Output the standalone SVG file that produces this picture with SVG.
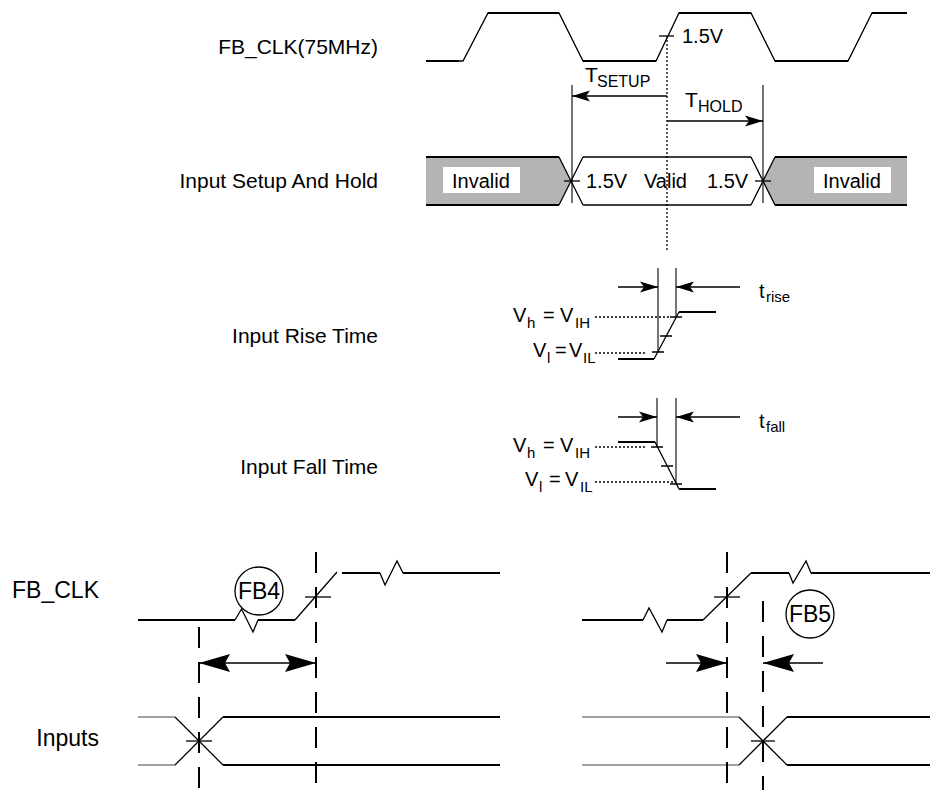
<svg xmlns="http://www.w3.org/2000/svg" width="931" height="790" viewBox="0 0 931 790">
<style>
text{font-family:"Liberation Sans",Arial,sans-serif;fill:#000}
.lbl{font-size:21px}
.big{font-size:23px}
.t20{font-size:20px}
.sub{font-size:16px}
.v{font-size:20px}
.vs{font-size:15px}
.w{fill:none;stroke:#000;stroke-width:1.3;stroke-linejoin:miter}
.h{fill:none;stroke:#000;stroke-width:2.2}
.b{fill:none;stroke:#000;stroke-width:2}
.thin{fill:none;stroke:#000;stroke-width:1.1}
.gthin{fill:none;stroke:#444;stroke-width:1.2}
.dot{fill:none;stroke:#000;stroke-width:1.3;stroke-dasharray:2 2}
.dash{fill:none;stroke:#000;stroke-width:2;stroke-dasharray:21 14}
.arr{fill:none;stroke:#000;stroke-width:1.3}
.gray{fill:#b4b4b4;stroke:none}
.box{fill:#fff;stroke:none}
</style>
<defs>
<marker id="as" markerUnits="userSpaceOnUse" viewBox="-20 -8 22 16" refX="0" refY="0" markerWidth="22" markerHeight="16" orient="auto"><path d="M0,0 L-18,-5.5 L-14,0 L-18,5.5 Z" fill="#000"/></marker>
<marker id="al" markerUnits="userSpaceOnUse" viewBox="-34 -12 36 24" refX="0" refY="0" markerWidth="36" markerHeight="24" orient="auto"><path d="M0,0 L-31,-9 L-26,0 L-31,9 Z" fill="#000"/></marker>
</defs>

<g id="labels">
<text class="lbl" x="378" y="54" text-anchor="end">FB_CLK(75MHz)</text>
<text class="lbl" x="378" y="188" text-anchor="end">Input Setup And Hold</text>
<text class="lbl" x="378" y="343" text-anchor="end">Input Rise Time</text>
<text class="lbl" x="378" y="474" text-anchor="end">Input Fall Time</text>
<text class="big" x="99" y="598" text-anchor="end">FB_CLK</text>
<text class="big" x="99" y="746" text-anchor="end">Inputs</text>
</g>

<g id="clock75">
<path class="w" d="M426,61 L463,61 L488,13 L559,13 L583,61 L656,61 L679,13 L751,13 L775,61 L848,61 L872,13 L907,13"/>
<path class="h" d="M426,61 H459 M488,13 H559 M583,61 H656 M679,13 H751 M775,61 H848 M872,13 H907"/>
<line class="w" x1="659" y1="36" x2="674" y2="36"/>
<text class="t20" x="682" y="43">1.5V</text>
</g>

<g id="setup-hold-bus">
<polygon class="gray" points="426,157 559,157 571,181 559,205 426,205"/>
<polygon class="gray" points="907,157 775,157 763,181 775,205 907,205"/>
<path class="h" d="M426,157 H559 M426,205 H559 M775,157 H907 M775,205 H907"/>
<path class="w" d="M559,157 L583,205 M559,205 L583,157 M583,157 H751 M583,205 H751 M751,157 L775,205 M751,205 L775,157"/>
<line class="w" x1="564" y1="181" x2="580" y2="181"/>
<line class="w" x1="755" y1="181" x2="771" y2="181"/>
<rect class="box" x="443" y="167" width="77" height="26"/>
<rect class="box" x="814" y="167" width="77" height="26"/>
<text class="t20" x="452" y="188">Invalid</text>
<text class="t20" x="823" y="188">Invalid</text>
<text class="t20" x="586" y="188">1.5V</text>
<text class="t20" x="644" y="188">Valid</text>
<text class="t20" x="707" y="188">1.5V</text>
</g>

<g id="rise-time">
<path class="w" d="M654,359 L679,312"/>
<path class="h" d="M618,359 H654 M679,312 H716"/>
<path class="w" d="M652,352 H664 M660,336 H672 M670,317 H682"/>
<line class="dot" x1="595" y1="317" x2="670" y2="317"/>
<line class="dot" x1="595" y1="353" x2="645" y2="353"/>
<text class="v" x="513" y="322">V</text><text class="vs" x="527" y="328">h</text><text class="v" x="543" y="322">=</text><text class="v" x="560" y="322">V</text><text class="vs" x="575" y="328">IH</text>
<text class="v" x="533" y="357">V</text><text class="vs" x="547" y="363">l</text><text class="v" x="555" y="357">=</text><text class="v" x="569" y="357">V</text><text class="vs" x="583" y="363">IL</text>
<text class="t20" x="759" y="298">t</text><text class="vs" x="766" y="302">rise</text>
</g>

<g id="fall-time">
<path class="w" d="M655,442 L679,489"/>
<path class="h" d="M618,442 H655 M679,489 H716"/>
<path class="w" d="M651,447 H663 M661,466 H673 M670,484 H682"/>
<line class="dot" x1="595" y1="447" x2="645" y2="447"/>
<line class="dot" x1="595" y1="482" x2="675" y2="482"/>
<text class="v" x="513" y="452">V</text><text class="vs" x="527" y="458">h</text><text class="v" x="543" y="452">=</text><text class="v" x="560" y="452">V</text><text class="vs" x="575" y="458">IH</text>
<text class="v" x="525" y="486">V</text><text class="vs" x="539" y="492">l</text><text class="v" x="549" y="486">=</text><text class="v" x="565" y="486">V</text><text class="vs" x="580" y="492">IL</text>
<text class="t20" x="759" y="428">t</text><text class="vs" x="766" y="432">fall</text>
</g>

<g id="fbclk-left">
<path class="b" d="M138,620 H235 M258,620 H295 M342,573 H380 M403,573 H500"/>
<path class="w" d="M235,620 L241.5,609 L253,632 L258,620 M295,620 L337,572 M380,573 L385,585 L397,561 L403,573"/>
<line class="w" x1="305" y1="597" x2="331" y2="597"/>
</g>

<g id="fb4">
<circle cx="259" cy="591" r="24" fill="none" stroke="#000" stroke-width="1.3"/>
<text class="big" x="259" y="599" text-anchor="middle">FB4</text>
</g>

<g id="inputs-left">
<path class="gthin" d="M138,717 H175 M138,765 H175"/>
<path class="w" d="M175,717 L223,765 M175,765 L223,717"/>
<path class="b" d="M223,765 H500 M223,717 H500"/>
<line class="w" x1="186" y1="741" x2="212" y2="741"/>
</g>

<g id="fbclk-right">
<path class="b" d="M582,620 H643 M667,620 H703 M751,573 H789 M811,573 H930"/>
<path class="w" d="M643,620 L649,608 L662,632 L667,620 M703,620 L751,573 M789,573 L793,583 L806,561 L811,573"/>
<line class="w" x1="714" y1="597" x2="740" y2="597"/>
</g>

<g id="fb5">
<circle cx="810" cy="614" r="24" fill="none" stroke="#000" stroke-width="1.3"/>
<text class="big" x="810" y="622" text-anchor="middle">FB5</text>
</g>

<g id="inputs-right">
<path class="gthin" d="M582,717 H739 M582,765 H739"/>
<path class="w" d="M739,717 L787,765 M739,765 L787,717"/>
<path class="b" d="M787,765 H930 M787,717 H930"/>
<line class="w" x1="751" y1="741" x2="775" y2="741"/>
</g>

<g id="connectors">
<line class="dot" x1="667" y1="36" x2="667" y2="252"/>
<line class="thin" x1="572" y1="85" x2="572" y2="203"/>
<line class="thin" x1="763" y1="85" x2="763" y2="203"/>
<line class="arr" x1="667" y1="96" x2="572" y2="96" marker-end="url(#as)"/>
<line class="arr" x1="667" y1="121" x2="763" y2="121" marker-end="url(#as)"/>
<text class="lbl" x="585" y="82">T</text><text class="sub" x="597" y="87">SETUP</text>
<text class="lbl" x="685" y="107">T</text><text class="sub" x="698" y="112">HOLD</text>

<line class="thin" x1="658" y1="268" x2="658" y2="352"/>
<line class="thin" x1="676" y1="268" x2="676" y2="317"/>
<line class="arr" x1="618" y1="287" x2="658" y2="287" marker-end="url(#as)"/>
<line class="arr" x1="740" y1="287" x2="676" y2="287" marker-end="url(#as)"/>

<line class="thin" x1="657" y1="398" x2="657" y2="447"/>
<line class="thin" x1="676" y1="398" x2="676" y2="484"/>
<line class="arr" x1="618" y1="417" x2="657" y2="417" marker-end="url(#as)"/>
<line class="arr" x1="740" y1="417" x2="676" y2="417" marker-end="url(#as)"/>

<line class="dash" x1="316" y1="552" x2="316" y2="790"/>
<line class="dash" x1="199" y1="627" x2="199" y2="790"/>
<line class="arr" x1="257" y1="663" x2="199" y2="663" marker-end="url(#al)"/>
<line class="arr" x1="257" y1="663" x2="316" y2="663" marker-end="url(#al)"/>

<line class="dash" x1="727" y1="552" x2="727" y2="790"/>
<line class="dash" x1="763" y1="601" x2="763" y2="790"/>
<line class="arr" x1="666" y1="663" x2="727" y2="663" marker-end="url(#al)"/>
<line class="arr" x1="823" y1="663" x2="763" y2="663" marker-end="url(#al)"/>
</g>
</svg>
